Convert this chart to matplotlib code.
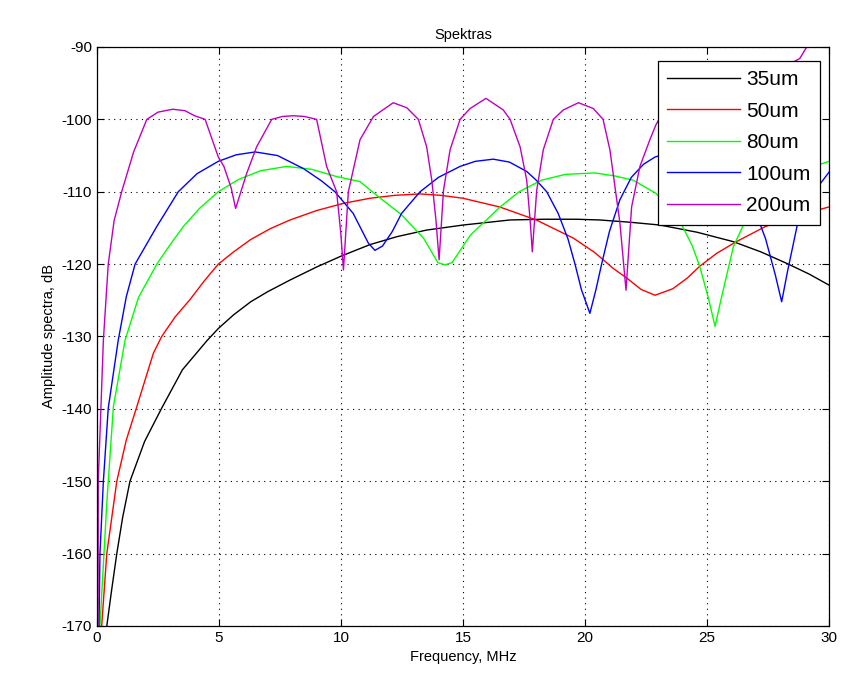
import matplotlib
matplotlib.use('Agg')
import matplotlib.pyplot as plt

plt.rcParams['font.family'] = ['Liberation Sans', 'DejaVu Sans']
plt.rcParams['axes.unicode_minus'] = False

# values (frequency in MHz, amplitude in dB)
f_35 = [0.40, 0.60, 0.81, 1.05, 1.35, 1.95, 2.65, 3.50, 4.50, 4.97, 5.6, 6.3, 7.0, 7.91,
        9.0, 10.0, 11.19, 12.3, 13.5, 15.0, 16.93, 18.3, 19.66, 20.6, 21.8, 23.07, 24.6,
        26.08, 27.2, 28.27, 29.2, 30.0]
a_35 = [-170, -165, -160, -155, -150, -144.5, -139.9, -134.6, -130.6, -128.9, -127.0, -125.2, -123.8, -122.2,
        -120.4, -118.9, -117.3, -116.2, -115.3, -114.6, -113.9, -113.8, -113.8, -113.9, -114.2, -114.6, -115.6,
        -116.9, -118.3, -119.9, -121.4, -122.9]

f_50 = [0.19, 0.40, 0.81, 1.2, 1.63, 2.31, 2.65, 3.2, 3.81, 4.4, 4.97, 5.6, 6.3, 7.1, 7.91,
        9.0, 10.1, 11.19, 12.2, 13.24, 14.1, 15.0, 16.5, 18.0, 19.52, 20.4, 21.16, 21.7, 22.3,
        22.87, 23.6, 24.2, 24.7, 25.4, 26.2, 27.4, 28.7, 30.0]
a_50 = [-170, -160, -150, -144.3, -139.7, -132.3, -130.0, -127.3, -124.9, -122.3, -120.0, -118.3, -116.6, -115.1, -113.9,
        -112.6, -111.6, -110.9, -110.5, -110.3, -110.5, -110.9, -112.1, -113.9, -116.4, -118.4, -120.6, -121.9, -123.5,
        -124.3, -123.4, -121.9, -120.3, -118.5, -116.9, -114.8, -113.3, -112.1]

f_80 = [0.12, 0.40, 0.67, 1.15, 1.7, 2.45, 3.0, 3.54, 4.2, 4.97, 5.8, 6.7, 7.77, 8.8, 9.82,
        10.78, 11.5, 12.49, 13.4, 13.97, 14.26, 14.55, 15.3, 16.52, 17.3, 18.22, 19.2, 20.4,
        21.2, 21.97, 22.9, 23.5, 24.0, 24.4, 24.7, 25.05, 25.33, 25.6, 26.08, 26.49, 27.0,
        27.5, 28.1, 28.7, 29.3, 30.0]
a_80 = [-170, -153, -139.7, -130.5, -124.6, -120.0, -117.3, -114.8, -112.3, -110.0, -108.3, -107.1, -106.5, -106.9, -107.9,
        -108.6, -110.6, -113.2, -116.5, -119.8, -120.1, -119.8, -116.0, -112.1, -110.0, -108.4, -107.6, -107.4,
        -107.8, -108.4, -110.2, -112.3, -114.8, -117.5, -120.3, -124.6, -128.6, -124.5, -117.6, -114.6, -112.4,
        -110.6, -109.0, -107.6, -106.6, -105.8]

f_100 = [0.08, 0.12, 0.26, 0.46, 0.87, 1.2, 1.56, 2.45, 3.33, 4.1, 4.97, 5.7, 6.48, 7.4, 8.46,
         9.2, 9.75, 10.5, 11.12, 11.39, 11.7, 12.1, 12.48, 13.24, 14.0, 14.88, 15.5, 16.24, 16.9,
         17.61, 18.0, 18.43, 18.9, 19.3, 19.59, 19.85, 20.2, 20.45, 20.68, 21.0, 21.43, 21.9, 22.4,
         22.87, 23.6, 24.3, 25.0, 25.6, 26.2, 26.7, 27.1, 27.4, 27.8, 28.06, 28.3, 28.7, 29.3, 30.0]
a_100 = [-170, -160, -150, -139.9, -130.5, -124.5, -120.0, -114.8, -110.0, -107.5, -105.8, -104.9, -104.5, -105.0, -106.8,
         -108.5, -110.0, -113.0, -117.1, -118.1, -117.5, -115.5, -113.0, -110.0, -108.0, -106.5, -105.8, -105.5, -105.9,
         -107.2, -108.4, -110.0, -113.0, -116.5, -120.0, -123.5, -126.8, -123.5, -120.0, -115.5, -111.1, -108.0, -106.2,
         -105.2, -104.5, -104.4, -105.0, -106.3, -108.6, -111.0, -113.8, -116.5, -121.5, -125.2, -121.0, -114.6, -110.4, -107.3]

f_200 = [0.04, 0.05, 0.26, 0.46, 0.7, 1.01, 1.5, 2.04, 2.5, 3.1, 3.6, 4.0, 4.43, 4.97, 5.2, 5.5, 5.68,
         6.13, 6.54, 7.16, 7.6, 8.05, 8.5, 9.0, 9.41, 9.82, 9.99, 10.1, 10.3, 10.78, 11.33, 12.14,
         12.7, 13.17, 13.51, 13.72, 13.89, 14.02, 14.2, 14.47, 14.88, 15.29, 15.94, 16.65, 16.93,
         17.34, 17.61, 17.75, 17.84, 18.02, 18.29, 18.7, 19.11, 19.73, 20.34, 20.74, 21.02, 21.43,
         21.68, 21.91, 22.25, 22.66, 22.9, 23.6, 24.3, 24.9, 25.5, 26.1, 26.8, 27.5, 28.3, 28.8, 29.05, 30.0]
a_200 = [-170, -150, -130.5, -120.0, -114.0, -110.0, -104.5, -100.0, -99.0, -98.6, -98.8, -99.5, -100.0, -105.2, -106.5, -109.5, -112.3,
         -107.5, -103.8, -100.0, -99.6, -99.5, -99.6, -100.0, -106.5, -110.0, -115.7, -120.8, -110.0, -102.8, -99.6, -97.7,
         -98.4, -100.0, -103.8, -108.4, -113.9, -119.4, -109.8, -104.2, -100.0, -98.5, -97.1, -98.7, -100.0,
         -103.8, -108.4, -113.9, -118.3, -109.8, -104.2, -100.0, -98.7, -97.7, -98.5, -100.0, -104.2, -114.3,
         -123.6, -112.1, -106.5, -102.8, -100.8, -96.5, -97.0, -100.0, -104.0, -100.0, -96.5, -94.5, -92.5, -91.6, -90.2, -87.0]

labels = ['35um', '50um', '80um', '100um', '200um']

fig = plt.figure(figsize=(8.43, 6.84), dpi=100)
ax = fig.add_axes([0.1151, 0.0848, 0.8683, 0.8465])

ax.plot(f_35, a_35, color='k', lw=1, label=labels[0])
ax.plot(f_50, a_50, color='r', lw=1, label=labels[1])
ax.plot(f_80, a_80, color='#00ff00', lw=1, label=labels[2])
ax.plot(f_100, a_100, color='b', lw=1, label=labels[3])
ax.plot(f_200, a_200, color='m', lw=1, label=labels[4])

ax.set_xlim(0, 30)
ax.set_ylim(-170, -90)
ax.set_xticks(range(0, 31, 5))
ax.set_yticks(range(-170, -89, 10))
ax.grid(True, color='k', linestyle=(0, (1, 4)), linewidth=0.8)
ax.tick_params(direction='in', top=True, right=True, length=5, labelsize=11)
for s in ax.spines.values():
    s.set_linewidth(0.9)

ax.set_title('Spektras', fontsize=10.5)
ax.set_xlabel('Frequency, MHz', fontsize=10.5)
ax.set_ylabel('Amplitude spectra, dB', fontsize=10.5)

leg = ax.legend(loc='upper right', bbox_to_anchor=(0.988, 0.976), fontsize=15,
                handlelength=3.5, handletextpad=0.3, labelspacing=0.6,
                borderpad=0.45, fancybox=False, framealpha=1, edgecolor='k',
                borderaxespad=0)
leg.get_frame().set_linewidth(0.9)

plt.savefig('out.png', dpi=100)
